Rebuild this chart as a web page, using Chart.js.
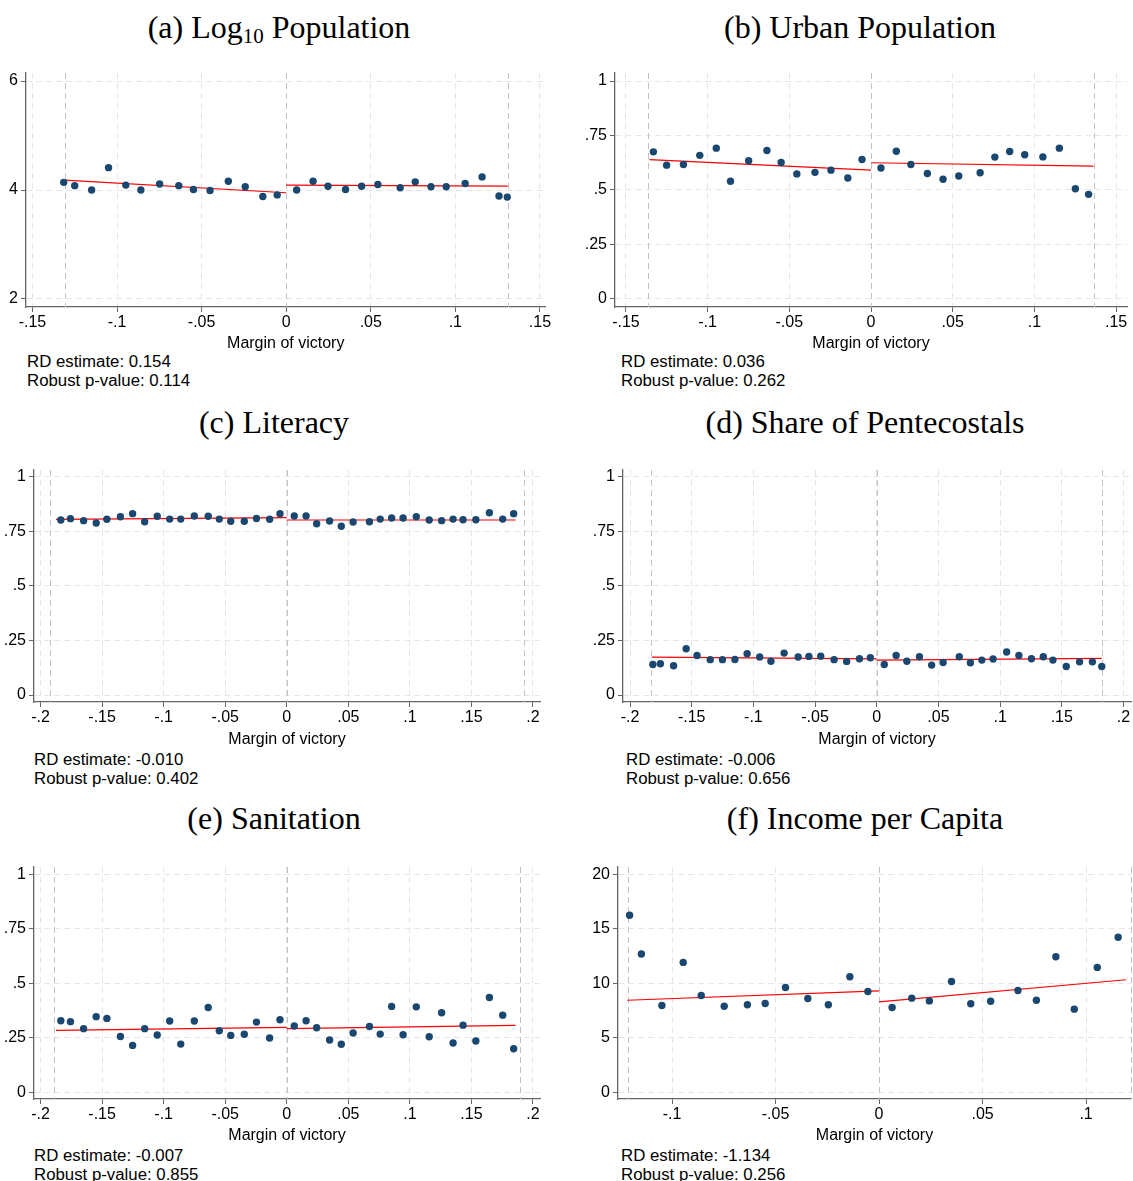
<!DOCTYPE html>
<html>
<head>
<meta charset="utf-8">
<script src="https://cdn.jsdelivr.net/npm/chart.js@4.4.1/dist/chart.umd.min.js"></script>
<style>
  body { margin: 0; background: #fff; }
  #page { position: relative; width: 1133px; height: 1181px; overflow: hidden; }
  .ttl { position: absolute; font-family: "Liberation Serif", "Times New Roman", serif; font-size: 32px;
         line-height: 32px; white-space: nowrap; transform: translateX(-50%); color: #000; }
  .ttl sub { font-size: 21px; vertical-align: -5px; line-height: 0; }
  .note { position: absolute; font-family: "Liberation Sans", Arial, sans-serif; font-size: 16px;
          line-height: 18.5px; white-space: nowrap; color: #000; transform-origin: 0 0; transform: scaleX(1.05); }
  canvas { position: absolute; }
</style>
</head>
<body>
<div id="page"></div>
<script>
// ---- data ----
// (a) Log10 population
var aX = [-0.1315,-0.125,-0.115,-0.105,-0.0948,-0.0859,-0.0748,-0.0635,-0.0548,-0.045,-0.0342,-0.0242,-0.0138,-0.0053,
          0.0062,0.0159,0.0247,0.0351,0.0446,0.0542,0.0674,0.0763,0.0856,0.0946,0.1058,0.1158,0.1258,0.1307];
var aY = [4.14,4.08,4.00,4.41,4.09,4.00,4.11,4.08,4.01,3.99,4.16,4.06,3.88,3.91,
          4.00,4.16,4.07,4.01,4.07,4.10,4.04,4.15,4.06,4.06,4.12,4.24,3.89,3.87];
var aFitX = [-0.131, 0.131], aFitL = [4.18, 3.95], aFitR = [4.09, 4.07];
var aBand = 0.131;

// (b) Urban population
var bX = [-0.1332,-0.1251,-0.1148,-0.1048,-0.0947,-0.086,-0.0749,-0.0637,-0.055,-0.0454,-0.0343,-0.0245,-0.0142,-0.0055,
          0.0061,0.0155,0.0244,0.0345,0.0441,0.0537,0.0668,0.0758,0.0849,0.0941,0.1052,0.1153,0.1251,0.1332];
var bY = [0.675,0.614,0.617,0.659,0.692,0.540,0.634,0.681,0.626,0.574,0.581,0.591,0.555,0.640,
          0.601,0.678,0.617,0.576,0.549,0.564,0.579,0.651,0.677,0.662,0.652,0.692,0.506,0.480];
var bFitX = [-0.1356, 0.1362], bFitL = [0.639, 0.591], bFitR = [0.625, 0.610];
var bBand = 0.1367;

// (c) Literacy
var cX = [-0.1835,-0.1757,-0.165,-0.1548,-0.1461,-0.1351,-0.1252,-0.1154,-0.1052,-0.0951,-0.0861,-0.0751,-0.0638,-0.0548,-0.0455,-0.0345,-0.0246,-0.0139,-0.0055,
          0.0061,0.0157,0.0243,0.0348,0.0443,0.0539,0.0672,0.0759,0.0852,0.0945,0.1052,0.1157,0.1258,0.1351,0.1432,0.1536,0.1646,0.1754,0.1843];
var cY = [0.802,0.808,0.799,0.788,0.805,0.817,0.831,0.794,0.819,0.806,0.806,0.820,0.819,0.806,0.796,0.796,0.809,0.805,0.831,
          0.820,0.820,0.785,0.797,0.773,0.793,0.794,0.806,0.811,0.811,0.817,0.802,0.799,0.806,0.803,0.803,0.835,0.806,0.831];
var cFitX = [-0.1875, 0.1858], cFitL = [0.805, 0.8125], cFitR = [0.802, 0.802];
var cBand = 0.1925;

// (d) Share of Pentecostals
var dX = [-0.1815,-0.1754,-0.1647,-0.1545,-0.1457,-0.135,-0.1251,-0.115,-0.1051,-0.0949,-0.0858,-0.0751,-0.0637,-0.055,-0.0454,-0.0346,-0.0244,-0.014,-0.0052,
          0.0061,0.0157,0.0244,0.0346,0.0445,0.0538,0.0669,0.0759,0.0852,0.0943,0.1053,0.1152,0.1254,0.135,0.1428,0.1536,0.1644,0.1748,0.1824];
var dY = [0.140,0.143,0.134,0.212,0.181,0.162,0.162,0.163,0.189,0.174,0.155,0.192,0.174,0.177,0.178,0.162,0.154,0.166,0.171,
          0.140,0.181,0.155,0.175,0.137,0.149,0.175,0.148,0.160,0.165,0.197,0.181,0.166,0.175,0.160,0.131,0.152,0.152,0.131];
var dFitX = [-0.1824, 0.1824], dFitL = [0.174, 0.166], dFitR = [0.160, 0.168];
var dBand = 0.1827;

// (e) Sanitation
var eX = [-0.1835,-0.1757,-0.165,-0.1548,-0.1461,-0.1351,-0.1252,-0.1154,-0.1052,-0.0951,-0.0861,-0.0751,-0.0638,-0.0548,-0.0455,-0.0345,-0.0246,-0.0139,-0.0055,
          0.0061,0.0157,0.0243,0.0348,0.0443,0.0539,0.0672,0.0759,0.0852,0.0945,0.1052,0.1157,0.1258,0.1351,0.1432,0.1536,0.1646,0.1754,0.1843];
var eY = [0.328,0.324,0.292,0.347,0.339,0.256,0.215,0.292,0.263,0.327,0.221,0.327,0.389,0.282,0.261,0.266,0.322,0.249,0.333,
          0.304,0.328,0.296,0.240,0.220,0.272,0.302,0.267,0.394,0.264,0.392,0.255,0.365,0.226,0.308,0.235,0.435,0.354,0.200];
var eFitX = [-0.1875, 0.1858], eFitL = [0.284, 0.298], eFitR = [0.292, 0.307];
var eBand = 0.1893;

// (f) Income per capita
var fX = [-0.1205,-0.1148,-0.1049,-0.0946,-0.0859,-0.0748,-0.0636,-0.055,-0.0452,-0.0344,-0.0245,-0.0141,-0.0054,
          0.0063,0.0158,0.0243,0.035,0.0443,0.0539,0.0671,0.076,0.0854,0.0943,0.1054,0.1155];
var fY = [16.25,12.70,7.97,11.93,8.89,7.91,8.04,8.16,9.63,8.62,8.04,10.61,9.26,
          7.79,8.65,8.40,10.18,8.13,8.37,9.35,8.46,12.45,7.64,11.47,14.23];
var fFitX = [-0.1216, 0.1193], fFitL = [8.46, 9.32], fFitR = [8.31, 10.34];
var fBand = 0.1215;

// tick labels
var ticks15 = [-0.15, -0.1, -0.05, 0, 0.05, 0.1, 0.15];
var ticks20 = [-0.2, -0.15, -0.1, -0.05, 0, 0.05, 0.1, 0.15, 0.2];
var ticks10 = [-0.1, -0.05, 0, 0.05, 0.1];
var yTicksPop = [2, 4, 6];
var yTicksShare = [0, 0.25, 0.5, 0.75, 1];
var yTicksInc = [0, 5, 10, 15, 20];

var titles = ['(a) Log<sub>10</sub> Population', '(b) Urban Population', '(c) Literacy',
              '(d) Share of Pentecostals', '(e) Sanitation', '(f) Income per Capita'];
var rdEst = ['0.154', '0.036', '-0.010', '-0.006', '-0.007', '-1.134'];
var pVals = ['0.114', '0.262', '0.402', '0.656', '0.855', '0.256'];

// ---- layout ----
var panels = [
  {x: aX, y: aY, fx: aFitX, fl: aFitL, fr: aFitR, band: aBand, xt: ticks15, yt: yTicksPop,
   xr: [-0.1538, 0.1533], yr: [1.853, 6.147], left: 0, top: 60, w: 560, h: 293, yW: 26, padR: 14.5, padT: 13, xH: 46,
   tx: 279, ty: 11, nx: 27, ny: 353},
  {x: bX, y: bY, fx: bFitX, fl: bFitL, fr: bFitR, band: bBand, xt: ticks15, yt: yTicksShare,
   xr: [-0.1567, 0.1567], yr: [-0.037, 1.037], left: 567, top: 60, w: 566, h: 293, yW: 48, padR: 6, padT: 13, xH: 46,
   tx: 860, ty: 11, nx: 621, ny: 353},
  {x: cX, y: cY, fx: cFitX, fl: cFitL, fr: cFitR, band: cBand, xt: ticks20, yt: yTicksShare,
   xr: [-0.2053, 0.2057], yr: [-0.032, 1.031], left: 0, top: 455, w: 560, h: 294, yW: 34, padR: 20, padT: 15, xH: 47,
   tx: 274, ty: 406, nx: 34, ny: 751},
  {x: dX, y: dY, fx: dFitX, fl: dFitL, fr: dFitR, band: dBand, xt: ticks20, yt: yTicksShare,
   xr: [-0.2057, 0.2061], yr: [-0.032, 1.031], left: 567, top: 455, w: 566, h: 294, yW: 56, padR: 2, padT: 15, xH: 47,
   tx: 865, ty: 406, nx: 626, ny: 751},
  {x: eX, y: eY, fx: eFitX, fl: eFitL, fr: eFitR, band: eBand, xt: ticks20, yt: yTicksShare,
   xr: [-0.2053, 0.2057], yr: [-0.031, 1.034], left: 0, top: 850, w: 560, h: 295, yW: 34, padR: 20, padT: 17, xH: 46,
   tx: 274, ty: 802, nx: 34, ny: 1147},
  {x: fX, y: fY, fx: fFitX, fl: fFitL, fr: fFitR, band: fBand, xt: ticks10, yt: yTicksInc,
   xr: [-0.1261, 0.1217], yr: [-0.6, 20.68], left: 567, top: 850, w: 566, h: 295, yW: 51, padR: 2, padT: 17, xH: 46,
   tx: 865, ty: 802, nx: 621, ny: 1147}
];

var sansFont = {family: '"Liberation Sans", Arial, sans-serif', size: 16};

// Stata style numbers: -.15, .5, 0
function stataNum(v) {
  var s = String(+Number(v).toFixed(4));
  return s.replace(/^(-?)0\./, '$1.');
}

// dashed vertical lines at the bandwidth cutoffs and at zero
var cutLines = {
  id: 'cutLines',
  beforeDatasetsDraw: function(chart, args, opts) {
    var ctx = chart.ctx, area = chart.chartArea, xs = chart.scales.x;
    ctx.save();
    ctx.strokeStyle = '#c2c2c2';
    ctx.lineWidth = 1;
    ctx.setLineDash([6, 4]);
    opts.at.forEach(function(v) {
      var px = Math.round(xs.getPixelForValue(v)) + 0.5;
      ctx.beginPath();
      ctx.moveTo(px, area.top);
      ctx.lineTo(px, area.bottom);
      ctx.stroke();
    });
    ctx.restore();
  }
};

var page = document.getElementById('page');

panels.forEach(function(p, i) {
  var t = document.createElement('div');
  t.className = 'ttl';
  t.style.left = p.tx + 'px';
  t.style.top = p.ty + 'px';
  t.innerHTML = titles[i];
  page.appendChild(t);

  var n = document.createElement('div');
  n.className = 'note';
  n.style.left = p.nx + 'px';
  n.style.top = p.ny + 'px';
  n.innerHTML = 'RD estimate: ' + rdEst[i] + '<br>Robust p-value: ' + pVals[i];
  page.appendChild(n);

  var cv = document.createElement('canvas');
  cv.width = p.w;
  cv.height = p.h;
  cv.style.left = p.left + 'px';
  cv.style.top = p.top + 'px';
  page.appendChild(cv);

  var pts = p.x.map(function(x, k) { return {x: x, y: p.y[k]}; });

  new Chart(cv.getContext('2d'), {
    type: 'scatter',
    data: {
      datasets: [
        {data: pts, pointRadius: 3.7, pointBackgroundColor: '#1a476f', pointBorderWidth: 0},
        {type: 'line', data: [{x: p.fx[0], y: p.fl[0]}, {x: 0, y: p.fl[1]}],
         borderColor: '#ff0000', borderWidth: 1.2, pointRadius: 0, fill: false},
        {type: 'line', data: [{x: 0, y: p.fr[0]}, {x: p.fx[1], y: p.fr[1]}],
         borderColor: '#ff0000', borderWidth: 1.2, pointRadius: 0, fill: false}
      ]
    },
    options: {
      responsive: false,
      animation: false,
      events: [],
      layout: {autoPadding: false, padding: {left: 0, right: p.padR, top: p.padT, bottom: 0}},
      plugins: {legend: {display: false}, tooltip: {enabled: false}, cutLines: {at: [-p.band, 0, p.band]}},
      scales: {
        x: {
          type: 'linear', position: 'bottom', min: p.xr[0], max: p.xr[1],
          afterBuildTicks: function(s) { s.ticks = p.xt.map(function(v) { return {value: v}; }); },
          afterFit: function(s) { s.height = p.xH; },
          ticks: {callback: stataNum, autoSkip: false, maxRotation: 0, padding: 1, font: sansFont, color: '#000'},
          grid: {color: '#e6e6e6', lineWidth: 1, drawTicks: true, tickLength: 5, tickColor: '#666', tickBorderDash: []},
          border: {display: true, color: '#666', width: 1.3, dash: [6, 4]},
          title: {display: true, text: 'Margin of victory', font: sansFont, color: '#000', padding: 0}
        },
        y: {
          type: 'linear', position: 'left', min: p.yr[0], max: p.yr[1],
          afterBuildTicks: function(s) { s.ticks = p.yt.map(function(v) { return {value: v}; }); },
          afterFit: function(s) { s.width = p.yW; },
          ticks: {callback: stataNum, autoSkip: false, padding: 3, font: sansFont, color: '#000'},
          grid: {color: '#e6e6e6', lineWidth: 1, drawTicks: true, tickLength: 5, tickColor: '#666', tickBorderDash: []},
          border: {display: true, color: '#666', width: 1.3, dash: [6, 4]}
        }
      }
    },
    plugins: [cutLines]
  });
});
</script>
</body>
</html>
